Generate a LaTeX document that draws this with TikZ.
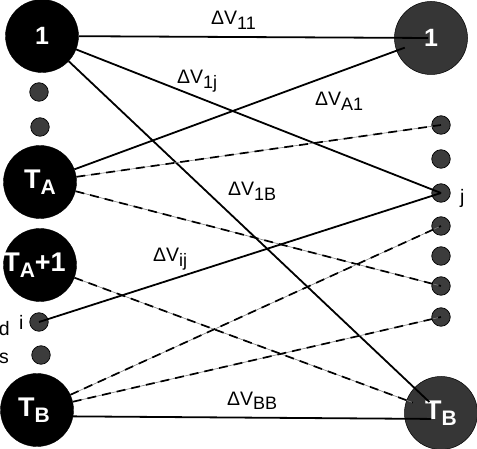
\documentclass[tikz,border=0pt]{standalone}
\usepackage{fontspec}
\setmainfont{Liberation Sans}
\definecolor{rgray}{HTML}{363636}
\definecolor{dgray}{HTML}{3C3C3C}
\newcommand{\nsub}[1]{\raisebox{-6pt}{\fontsize{21}{21}\selectfont #1}}
\newcommand{\esub}[1]{\raisebox{-5pt}{\fontsize{18}{18}\selectfont #1}}
\tikzset{
  bigL/.style={circle, fill=black, draw=black, minimum size=73pt, inner sep=0pt,
    text=white, font=\bfseries\fontsize{27}{27}\selectfont},
  bigR/.style={circle, fill=rgray, draw=black, line width=0.5pt, minimum size=73pt,
    inner sep=0pt, text=white, font=\bfseries\fontsize{27}{27}\selectfont},
  smalldot/.style={circle, fill=dgray, draw=black, line width=0.7pt,
    minimum size=18.5pt, inner sep=0pt},
  lbl/.style={font=\fontsize{19.5}{19.5}\selectfont, inner sep=0pt, anchor=base west},
  side/.style={font=\fontsize{19.5}{19.5}\selectfont, inner sep=0pt},
  solidedge/.style={draw=black, line width=1.8pt},
  dashedge/.style={draw=black, line width=1.7pt, dash pattern=on 9pt off 6pt,
    preaction={draw=gray, line width=0.6pt, solid}}
}
\begin{document}
\begin{tikzpicture}[x=1pt,y=-1pt]
\useasboundingbox[fill=white] (0,0) rectangle (477,449);
% left nodes
\node[bigL] (L1) at (42,36) {\fontsize{25}{25}\selectfont 1};
\node[smalldot] (Ld1) at (39,92) {};
\node[smalldot] (Ld2) at (40,127) {};
\node[bigL] (TA) at (40,182) {T\nsub{A}};
\node[bigL] (TA1) at (40,265) {\makebox[0pt][c]{\kern-11pt T\nsub{A}+1}};
\node[smalldot] (Li) at (39,322) {};
\node[smalldot] (Ld3) at (41,355) {};
\node[bigL] (TB) at (37,410) {\makebox[0pt][c]{\kern-6pt T\nsub{B}}};
% right nodes
\node[bigR] (R1) at (431,38) {\fontsize{25}{25}\selectfont 1};
\node[smalldot] (Rd1) at (441,125) {};
\node[smalldot] (Rd2) at (441,159) {};
\node[smalldot] (Rj) at (441,193) {};
\node[smalldot] (Rd4) at (441,226) {};
\node[smalldot] (Rd5) at (441,256) {};
\node[smalldot] (Rd6) at (441,286) {};
\node[smalldot] (Rd7) at (441,317) {};
\node[bigR] (RTB) at (441,413) {T\nsub{B}};
% side texts
\node[side, anchor=base west] (ti) at (19,330) {i};
\node[side, anchor=base east] (td) at (10,336) {d};
\node[side, anchor=base east] (ts) at (9,363) {s};
\node[side, anchor=base west] (tj) at (460,204) {j};
% edges
\draw[solidedge, shorten >=3pt] (L1) -- (R1.center);
\draw[solidedge] (L1) -- (Rj.center);
\draw[solidedge, shorten >=16pt] (L1) -- (RTB.center);
\draw[solidedge, shorten >=28pt] (TA) -- (R1.center);
\draw[dashedge] (TA) -- (Rd1.center);
\draw[dashedge] (TA) -- (Rd6.center);
\draw[dashedge, shorten >=30pt] (TA1) -- (RTB.center);
\draw[solidedge] (Li.center) -- (Rj.center);
\draw[dashedge] (TB) -- (Rd4.center);
\draw[dashedge] (TB) -- (Rd7.center);
\draw[solidedge, shorten >=10pt] (TB.-10) -- ([yshift=-6pt]RTB.center);
% edge labels
\node[lbl] (l11) at (211,25) {ΔV\esub{11}};
\node[lbl] (l1j) at (177,84) {ΔV\esub{1j}};
\node[lbl] (lA1) at (315,106) {ΔV\esub{A1}};
\node[lbl] (l1B) at (228,196) {ΔV\esub{1B}};
\node[lbl] (lij) at (153,262) {ΔV\esub{ij}};
\node[lbl] (lBB) at (227,405) {ΔV\esub{BB}};
\end{tikzpicture}
\end{document}
